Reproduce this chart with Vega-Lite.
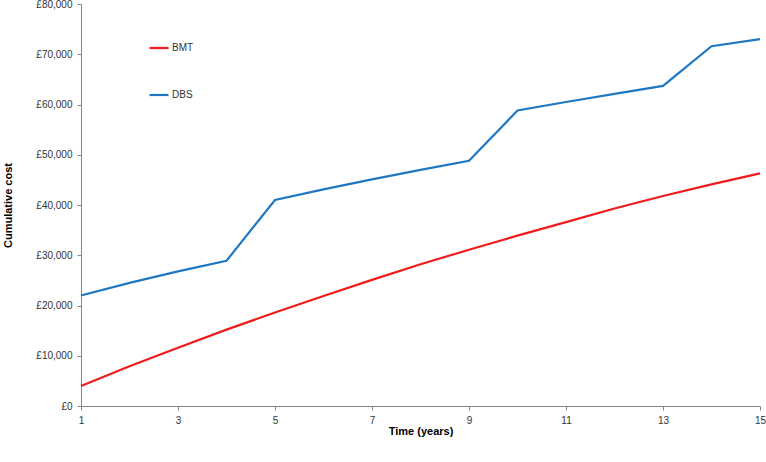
{
  "$schema": "https://vega.github.io/schema/vega-lite/v6.json",
  "autosize": "none",
  "width": 679,
  "height": 402,
  "padding": {"left": 81, "top": 4, "right": 6, "bottom": 56},
  "background": "white",
  "config": {
    "font": "Liberation Sans",
    "view": {"stroke": null},
    "axis": {"grid": false, "domainColor": "#868686", "tickColor": "#868686", "labelColor": "#333333", "labelFontSize": 10, "tickSize": 4, "titleFontSize": 11, "titleFontWeight": "bold", "titleColor": "#000000"}
  },
  "data": {
    "values": [
      {"year": 1, "series": "BMT", "cost": 4000},
      {"year": 2, "series": "BMT", "cost": 7900},
      {"year": 3, "series": "BMT", "cost": 11600},
      {"year": 4, "series": "BMT", "cost": 15200},
      {"year": 5, "series": "BMT", "cost": 18600},
      {"year": 6, "series": "BMT", "cost": 21900},
      {"year": 7, "series": "BMT", "cost": 25100},
      {"year": 8, "series": "BMT", "cost": 28200},
      {"year": 9, "series": "BMT", "cost": 31100},
      {"year": 10, "series": "BMT", "cost": 33900},
      {"year": 11, "series": "BMT", "cost": 36600},
      {"year": 12, "series": "BMT", "cost": 39300},
      {"year": 13, "series": "BMT", "cost": 41800},
      {"year": 14, "series": "BMT", "cost": 44100},
      {"year": 15, "series": "BMT", "cost": 46300},
      {"year": 1, "series": "DBS", "cost": 22000},
      {"year": 2, "series": "DBS", "cost": 24500},
      {"year": 3, "series": "DBS", "cost": 26800},
      {"year": 4, "series": "DBS", "cost": 28900},
      {"year": 5, "series": "DBS", "cost": 41000},
      {"year": 6, "series": "DBS", "cost": 43100},
      {"year": 7, "series": "DBS", "cost": 45100},
      {"year": 8, "series": "DBS", "cost": 47000},
      {"year": 9, "series": "DBS", "cost": 48800},
      {"year": 10, "series": "DBS", "cost": 58800},
      {"year": 11, "series": "DBS", "cost": 60500},
      {"year": 12, "series": "DBS", "cost": 62100},
      {"year": 13, "series": "DBS", "cost": 63700},
      {"year": 14, "series": "DBS", "cost": 71600},
      {"year": 15, "series": "DBS", "cost": 73000}
    ]
  },
  "mark": {"type": "line", "strokeWidth": 2.2},
  "encoding": {
    "x": {
      "field": "year", "type": "quantitative",
      "scale": {"domain": [1, 15], "nice": false, "zero": false},
      "axis": {"values": [1, 3, 5, 7, 9, 11, 13, 15], "title": "Time (years)", "labelPadding": 5, "titleY": 19, "titleBaseline": "top", "labelFlush": false}
    },
    "y": {
      "field": "cost", "type": "quantitative",
      "scale": {"domain": [0, 80000], "nice": false},
      "axis": {"values": [0, 10000, 20000, 30000, 40000, 50000, 60000, 70000, 80000], "labelExpr": "'£' + format(datum.value, ',')", "title": "Cumulative cost", "labelPadding": 5, "titleX": -68, "titleY": 201, "labelFlush": false}
    },
    "color": {
      "field": "series", "type": "nominal",
      "scale": {"domain": ["BMT", "DBS"], "range": ["#ee1c1c", "#1f78c1"]},
      "legend": {"title": null, "orient": "none", "legendX": 67, "legendY": 33, "symbolType": "stroke", "symbolSize": 361, "symbolStrokeWidth": 2.2, "rowPadding": 31, "labelFontSize": 10, "labelColor": "#333333", "labelOffset": 2, "padding": 0}
    }
  }
}
